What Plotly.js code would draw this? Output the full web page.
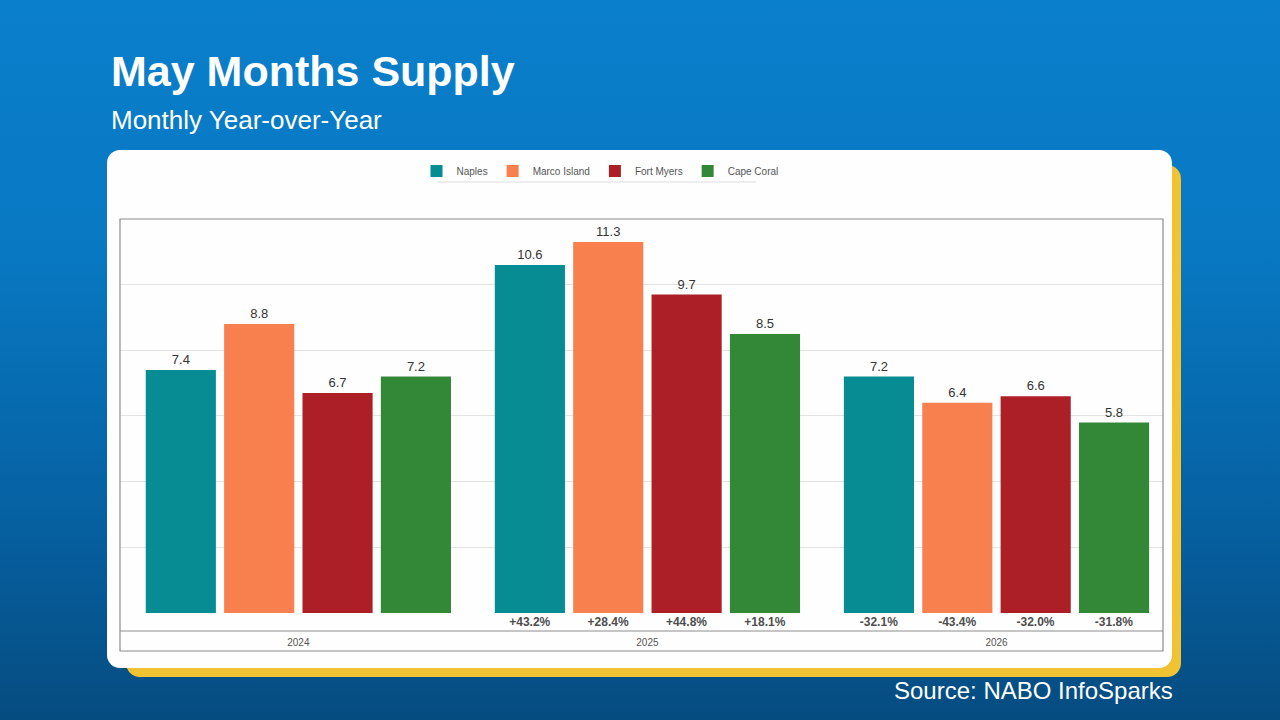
<!DOCTYPE html>
<html>
<head>
<meta charset="utf-8">
<script src="https://cdn.plot.ly/plotly-3.0.1.min.js"></script>
<style>
  html, body { margin:0; padding:0; width:1280px; height:720px; overflow:hidden; }
  body { background: linear-gradient(180deg, #0a7fcb 0%, #0878c2 35%, #0662a3 70%, #054c80 100%); position:relative; font-family:"Liberation Sans", Arial, sans-serif; }
  #yellow { position:absolute; left:126px; top:165px; width:1055px; height:512px; background:#f1c232; border-radius:14px; }
  #card { position:absolute; left:107px; top:150px; width:1065px; height:518px; background:#fefefe; border-radius:13px; }
  #chart { position:absolute; left:0; top:0; width:1280px; height:720px; }
</style>
</head>
<body>
<div id="yellow"></div>
<div id="card"></div>
<div id="chart"></div>
<script>
// ---- data ----
const years = ["2024", "2025", "2026"];
const seriesNames = ["Naples", "Marco Island", "Fort Myers", "Cape Coral"];
const naples = [7.4, 10.6, 7.2];
const marcoIsland = [8.8, 11.3, 6.4];
const fortMyers = [6.7, 9.7, 6.6];
const capeCoral = [7.2, 8.5, 5.8];
const naplesChange = ["", "+43.2%", "-32.1%"];
const marcoIslandChange = ["", "+28.4%", "-43.4%"];
const fortMyersChange = ["", "+44.8%", "-32.0%"];
const capeCoralChange = ["", "+18.1%", "-31.8%"];

const seriesValues = [naples, marcoIsland, fortMyers, capeCoral];
const seriesChanges = [naplesChange, marcoIslandChange, fortMyersChange, capeCoralChange];
const colors = ["#078c94", "#f8804f", "#ad1f27", "#338838"];

const font = "Liberation Sans, Arial, sans-serif";
const traces = [];
seriesNames.forEach((name, i) => {
  traces.push({
    type: "bar", name: name, x: years, y: seriesValues[i],
    marker: { color: colors[i] },
    text: seriesValues[i].map(v => v.toFixed(1)),
    textposition: "outside", cliponaxis: false,
    textfont: { family: font, size: 13, color: "#333333" },
    hoverinfo: "x+y+name", xaxis: "x", yaxis: "y"
  });
});
seriesNames.forEach((name, i) => {
  traces.push({
    type: "bar", name: name + " YoY", x: years, y: years.map(() => 1),
    marker: { color: "rgba(0,0,0,0)" },
    text: seriesChanges[i],
    textposition: "inside", insidetextanchor: "middle", textangle: 0,
    constraintext: "none",
    textfont: { family: font, size: 12, color: "#4d4d4d", weight: "bold" },
    showlegend: false, hoverinfo: "skip", xaxis: "x", yaxis: "y2"
  });
});

// plot area: x 120..1163, y 219..651
const layout = {
  width: 1280, height: 720,
  margin: { l: 120, r: 117, t: 219, b: 69, pad: 0 },
  paper_bgcolor: "rgba(0,0,0,0)", plot_bgcolor: "rgba(0,0,0,0)",
  font: { family: font },
  barmode: "group", bargap: 0.102, bargroupgap: 0.105,
  title: {
    text: "May Months Supply", xref: "container", yref: "container",
    x: 111 / 1280, xanchor: "left", y: 1 - 71 / 720, yanchor: "middle",
    font: { family: font, size: 43, color: "#ffffff", weight: "bold" }
  },
  xaxis: {
    type: "category", anchor: "y2", range: [-0.511, 2.477],
    showgrid: false, zeroline: false, showline: false, ticks: "",
    ticklabelstandoff: 4,
    tickfont: { family: font, size: 10, color: "#555555" }, fixedrange: true
  },
  yaxis: {
    domain: [0.088, 1], range: [0, 12], dtick: 2,
    showticklabels: false, showgrid: true, gridcolor: "#e3e3e3", gridwidth: 1,
    zeroline: false, showline: false, ticks: "", fixedrange: true
  },
  yaxis2: {
    domain: [0.0463, 0.088], range: [0, 1], anchor: "x",
    showticklabels: false, showgrid: false, zeroline: false, showline: false, ticks: "", fixedrange: true
  },
  legend: {
    orientation: "h", x: (600 - 120) / 1043, xanchor: "center",
    y: (651 - 171) / 432, yanchor: "middle",
    font: { family: font, size: 10, color: "#555555" },
    bgcolor: "rgba(0,0,0,0)", itemclick: false, itemdoubleclick: false
  },
  shapes: [
    { type: "rect", xref: "paper", yref: "paper", x0: 0, x1: 1, y0: 0, y1: 1,
      line: { color: "#8c8c8c", width: 1.2 }, layer: "above" },
    { type: "line", xref: "paper", yref: "paper", x0: 0, x1: 1, y0: 0.0463, y1: 0.0463,
      line: { color: "#8c8c8c", width: 1.2 } },
    { type: "line", xref: "paper", yref: "paper", x0: (437 - 120) / 1043, x1: (756 - 120) / 1043,
      y0: (651 - 182) / 432, y1: (651 - 182) / 432, line: { color: "#dddddd", width: 1 } }
  ],
  annotations: [
    { text: "Monthly Year-over-Year", xref: "paper", yref: "paper",
      x: (109 - 120) / 1043, xanchor: "left", y: (651 - 120) / 432, yanchor: "middle",
      showarrow: false, font: { family: font, size: 26, color: "#ffffff" } },
    { text: "Source: NABO InfoSparks", xref: "paper", yref: "paper",
      x: (1175 - 120) / 1043, xanchor: "right", y: (651 - 690) / 432, yanchor: "middle",
      showarrow: false, font: { family: font, size: 24, color: "#ffffff" } }
  ]
};

Plotly.newPlot("chart", traces, layout, { displayModeBar: false, staticPlot: true });
</script>
</body>
</html>
